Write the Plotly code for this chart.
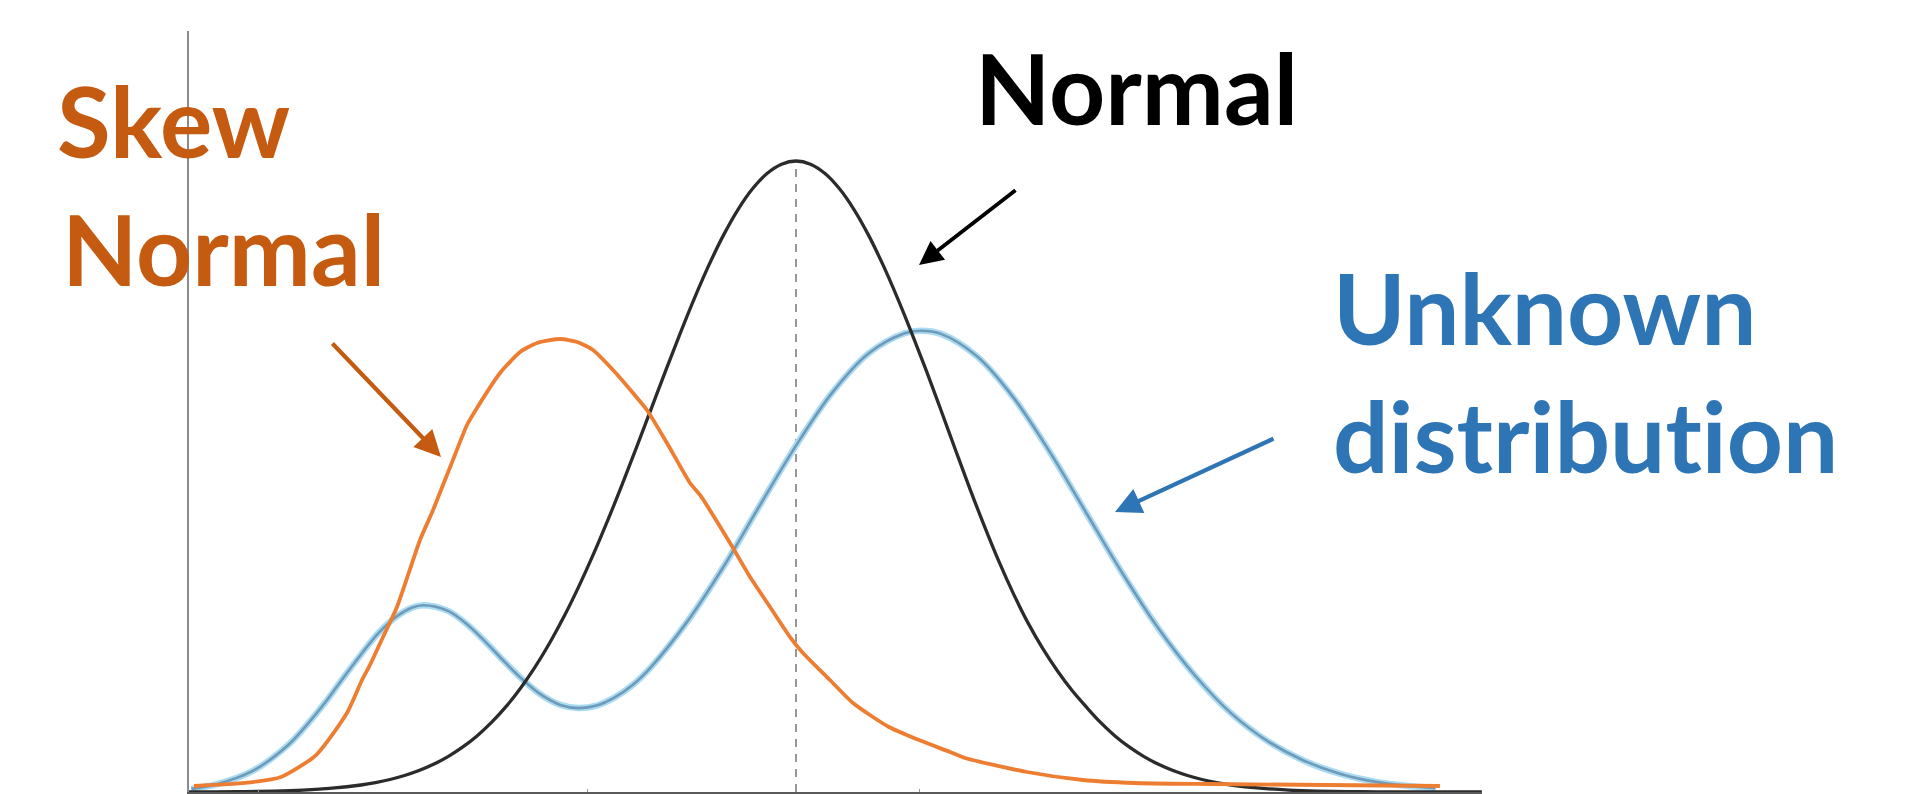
import plotly.graph_objects as go

# ---- data (standardised x; y relative to the normal peak) ----
normal_x = [-4.19, -4.0, -3.8, -3.6, -3.4, -3.2, -3.0, -2.9, -2.8, -2.7, -2.6, -2.5, -2.4, -2.3,
            -2.2, -2.1, -2.0, -1.9, -1.8, -1.7, -1.6, -1.5, -1.4, -1.3, -1.2, -1.1, -1.0,
            -0.9, -0.8, -0.7, -0.6, -0.5, -0.4, -0.3, -0.2, -0.1, 0.0, 0.1, 0.2, 0.3, 0.4,
            0.5, 0.6, 0.7, 0.8, 0.9, 1.0, 1.1, 1.2, 1.3, 1.4, 1.5, 1.6, 1.7, 1.8, 1.9, 2.0,
            2.1, 2.2, 2.3, 2.4, 2.5, 2.6, 2.7, 2.8, 2.9, 3.0, 3.2, 3.4, 3.6, 3.8, 4.0, 4.2,
            4.5, 4.73]
normal_y = [0.0001, 0.0003, 0.0007, 0.0015, 0.0031, 0.0060, 0.0111, 0.0149, 0.0198, 0.0261,
            0.0340, 0.0439, 0.0561, 0.0710, 0.0889, 0.1103, 0.1353, 0.1645, 0.1979, 0.2357,
            0.2780, 0.3247, 0.3753, 0.4296, 0.4868, 0.5461, 0.6065, 0.6670, 0.7261, 0.7827,
            0.8353, 0.8825, 0.9231, 0.9560, 0.9802, 0.9950, 1.0, 0.9950, 0.9802, 0.9560,
            0.9231, 0.8825, 0.8353, 0.7827, 0.7261, 0.6670, 0.6050, 0.5420, 0.4800, 0.4210,
            0.3650, 0.3140, 0.2680, 0.2280, 0.1930, 0.1620, 0.1353, 0.1103, 0.0889, 0.0710,
            0.0561, 0.0439, 0.0340, 0.0261, 0.0198, 0.0149, 0.0111, 0.0060, 0.0031, 0.0015,
            0.0007, 0.0003, 0.0001, 0.0, 0.0]

skew_x = [-4.152, -3.800, -3.552, -3.310, -3.097, -2.993, -2.938, -2.848, -2.752, -2.593,
          -2.503, -2.421, -2.366, -2.269, -2.200, -2.041, -1.903, -1.786, -1.628, -1.510,
          -1.400, -1.262, -1.124, -1.028, -0.890, -0.731, -0.662, -0.455, -0.317, -0.179,
          -0.041, 0.048, 0.234, 0.393, 0.641, 0.848, 1.062, 1.166, 1.593, 1.979, 2.331,
          2.855, 4.441]
skew_y = [0.0095, 0.0143, 0.0238, 0.0586, 0.1252, 0.1775, 0.2013, 0.2456, 0.2932, 0.3994,
          0.4469, 0.4945, 0.5261, 0.5816, 0.6086, 0.6640, 0.6973, 0.7116, 0.7179, 0.7132,
          0.7005, 0.6688, 0.6323, 0.6054, 0.5531, 0.4897, 0.4707, 0.3946, 0.3407, 0.2932,
          0.2456, 0.2203, 0.1775, 0.1410, 0.1030, 0.0824, 0.0634, 0.0539, 0.0317, 0.0190,
          0.0143, 0.0127, 0.0095]

unknown_x = [-4.17, -4.0, -3.75, -3.5, -3.375, -3.25, -3.125, -3.0, -2.875, -2.75, -2.65, -2.57,
             -2.4, -2.25, -2.125, -2.0, -1.875, -1.75, -1.625, -1.5, -1.375, -1.25, -1.125,
             -1.0, -0.75, -0.5, -0.25, 0.0, 0.25, 0.5, 0.75, 0.86, 1.0, 1.25, 1.5, 1.75, 2.0,
             2.25, 2.5, 2.75, 3.0, 3.25, 3.5, 3.75, 4.0, 4.25, 4.41]
unknown_y = [0.005, 0.012, 0.033, 0.075, 0.106, 0.141, 0.180, 0.218, 0.253, 0.279, 0.292, 0.296,
             0.287, 0.262, 0.234, 0.204, 0.176, 0.153, 0.138, 0.133, 0.137, 0.150, 0.170,
             0.198, 0.270, 0.357, 0.454, 0.549, 0.633, 0.695, 0.727, 0.731, 0.726, 0.690,
             0.625, 0.539, 0.443, 0.347, 0.259, 0.185, 0.125, 0.081, 0.050, 0.029, 0.016,
             0.009, 0.006]

mean_x = [0.0, 0.0]
mean_y = [0.0, 1.0]

tick_vals = [-3.71, -1.44, 0.85]

labels = ["Skew", "Normal", "Normal", "Unknown", "distribution"]

# ---- layout helpers (page pixel -> axis/paper units, for placement only) ----
OFF = 8                      # default body margin of the html page
PL, PR, PT, PB = 189, 1482, 31, 792   # plot area in page pixels
X0, XSCALE = 796, 145.0
Y0, YSCALE = 792, 631.0
def px(x):
    return (x - X0) / XSCALE
def py(y):
    return (Y0 - y) / YSCALE
def paper_x(x):
    return (x - PL) / (PR - PL)
def paper_y(y):
    return (PB - y) / (PB - PT)

ORANGE = "#ed7d31"
ORANGE_TXT = "#c55a11"
BLUE_TXT = "#2e75b6"

fig = go.Figure()
fig.add_trace(go.Scatter(x=mean_x, y=mean_y, mode="lines",
                         line=dict(color="#7f7f7f", width=1.6, dash="8px,7px"),
                         hoverinfo="skip"))
fig.add_trace(go.Scatter(x=unknown_x, y=unknown_y, mode="lines",
                         line=dict(color="#a9dbf2", width=6.5, shape="spline", smoothing=1),
                         hoverinfo="skip"))
fig.add_trace(go.Scatter(x=unknown_x, y=unknown_y, mode="lines",
                         line=dict(color="#6f9ab8", width=2.6, shape="spline", smoothing=1),
                         hoverinfo="skip"))
fig.add_trace(go.Scatter(x=normal_x, y=normal_y, mode="lines",
                         line=dict(color="#2b2b2b", width=3.3, shape="spline", smoothing=1),
                         hoverinfo="skip"))
fig.add_trace(go.Scatter(x=skew_x, y=skew_y, mode="lines",
                         line=dict(color=ORANGE, width=3.8, shape="spline", smoothing=0.6),
                         hoverinfo="skip"))

font_family = "Lato"
FS = 98
ann = []
def text(t, xp, base, color):
    ann.append(dict(text="<b>" + t + "</b>", x=paper_x(xp), y=paper_y(base - 0.40 * FS),
                    xref="paper", yref="paper",
                    xanchor="left", yanchor="middle", showarrow=False,
                    font=dict(family=font_family, size=FS, color=color)))

text(labels[0], 55, 159, ORANGE_TXT)
text(labels[1], 60, 287, ORANGE_TXT)
text(labels[2], 973, 126, "#000000")
text(labels[3], 1331, 346, BLUE_TXT)
# split the "t" into its own run so no ligature is formed with the following "i"
dist = labels[4]
text(dist[:8] + "<span style='font-size:%.1fpx'>t</span>" % (FS - 0.1) + dist[9:],
     1331, 474, BLUE_TXT)

def arrow(tip, tail, color, width):
    ann.append(dict(text="", x=px(tip[0]), y=py(tip[1]), ax=px(tail[0]), ay=py(tail[1]),
                    xref="x", yref="y", axref="x", ayref="y", showarrow=True,
                    arrowhead=2, arrowsize=1.25, arrowwidth=width, arrowcolor=color,
                    standoff=0, startstandoff=0))

arrow((441, 457), (331, 342), ORANGE_TXT, 4.2)
arrow((919, 265), (1017, 189), "#000000", 3.8)
arrow((1115, 512), (1275, 438), BLUE_TXT, 4.2)

W, H = 1908 - OFF, 794 - OFF
fig.update_layout(
    width=W, height=H,
    margin=dict(l=PL - OFF, r=W - (PR - OFF), t=PT - OFF, b=H - (PB - OFF), pad=0,
                autoexpand=False),
    paper_bgcolor="white", plot_bgcolor="white",
    showlegend=False,
    annotations=ann,
    xaxis=dict(range=[px(PL), px(PR)], showgrid=False, zeroline=False,
               showline=True, linecolor="#5a5a5a", linewidth=1.5,
               tickvals=tick_vals, ticks="inside", ticklen=3, tickcolor="#999999",
               showticklabels=False, fixedrange=True),
    yaxis=dict(range=[0, py(PT)], showgrid=False, zeroline=False,
               showline=True, linecolor="#8a8a8a", linewidth=1.5,
               showticklabels=False, ticks="", fixedrange=True),
)

fig.write_html("out.html")
